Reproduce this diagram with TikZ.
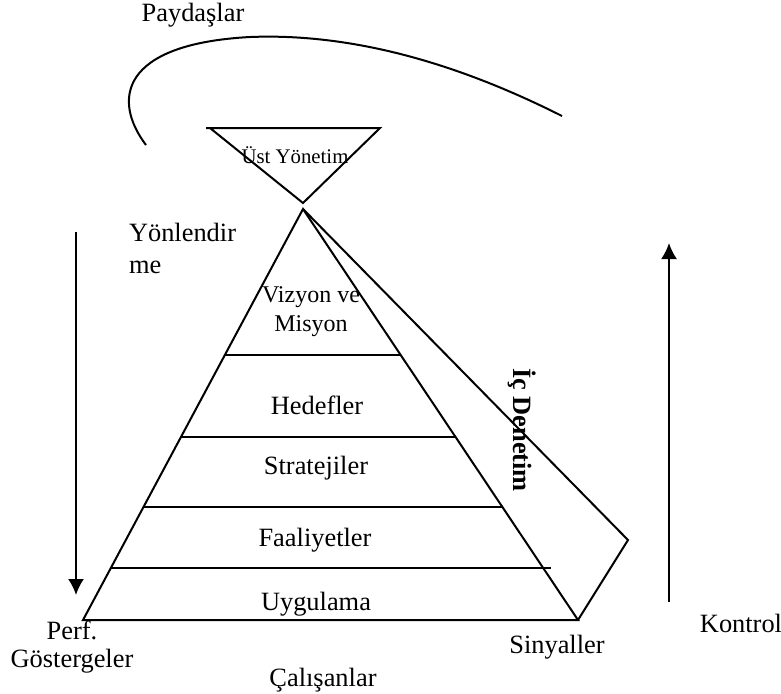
\documentclass[tikz,border=0pt]{standalone}
\usepackage{fontspec}
\setmainfont{Liberation Serif}
\usetikzlibrary{calc}
\usetikzlibrary{arrows.meta}
\tikzset{>={Latex[width=8pt,length=8pt]}}
\tikzset{
  lbl/.style={inner sep=0pt, font=\fontsize{13.2}{16}\selectfont},
  smalllbl/.style={inner sep=0pt, font=\fontsize{12}{14.5}\selectfont},
}

\begin{document}
\begin{tikzpicture}[x=0.5pt,y=-0.5pt,line width=1pt]
  \useasboundingbox (0,0) rectangle (781,693);

  \coordinate (apex) at (303,209);
  \coordinate (bl) at (83,620);
  \coordinate (br) at (578,620);
  \coordinate (side) at (628,540);

  % stakeholders arc
  \coordinate (arcstart) at (146,145);
  \coordinate (arcend) at (562,116);
  \draw (arcstart) .. controls (112,100) and (120,44) .. (250,37)
                   .. controls (350,33) and (455,62) .. (arcend);
  \node[lbl] (paydaslar) at (193,15) {Paydaşlar};

  % top management
  \coordinate (ust1) at (206,128);
  \coordinate (ust2) at (380,128);
  \coordinate (ust3) at (303,203);
  \draw (ust1) -- (ust2) -- (ust3) -- (210,128);
  \node[inner sep=0pt, font=\fontsize{10.4}{12}\selectfont] (ustyonetim) at (295,155) {Üst Yönetim};

  % pyramid
  \draw (apex) -- (bl) -- (br) -- cycle;
  \draw (apex) -- (side) -- (br);
  \foreach \t in {0.355,0.555,0.725}
    \draw ($(apex)!\t!(bl)$) -- ($(apex)!\t!(br)$);
  \draw ($(apex)!0.873!(bl)$) -- ($($(apex)!0.873!(br)$)+(8,0)$);

  \node[smalllbl,align=center] (vizyon) at (311,312) {Vizyon ve\\Misyon};
  \node[lbl] (hedefler) at (317,405) {Hedefler};
  \node[lbl] (stratejiler) at (316,468) {Stratejiler};
  \node[lbl] (faaliyetler) at (315,540) {Faaliyetler};
  \node[lbl] (uygulama) at (316,604) {Uygulama};
  \node[lbl,font=\fontsize{13.2}{16}\selectfont\bfseries,rotate=-90] (icdenetim) at (522,430) {İç Denetim};

  % arrows
  \coordinate (yontop) at (76,232);
  \coordinate (yonbot) at (76,595);
  \draw[->] (yontop) -- (yonbot);
  \coordinate (kontbot) at (669,602);
  \coordinate (konttop) at (669,243);
  \draw[->] (kontbot) -- (konttop);

  \node[lbl,align=left,anchor=west] (yonlendirme) at (128,248) {Yönlendir\\me};
  \node[lbl,align=center,font=\fontsize{13.2}{14}\selectfont] (perf) at (72,647) {Perf.\\Göstergeler};
  \node[lbl] (calisanlar) at (323,680) {Çalışanlar};
  \node[lbl] (sinyaller) at (557,647) {Sinyaller};
  \node[lbl] (kontrol) at (741,623) {Kontrol};

\end{tikzpicture}
\end{document}
